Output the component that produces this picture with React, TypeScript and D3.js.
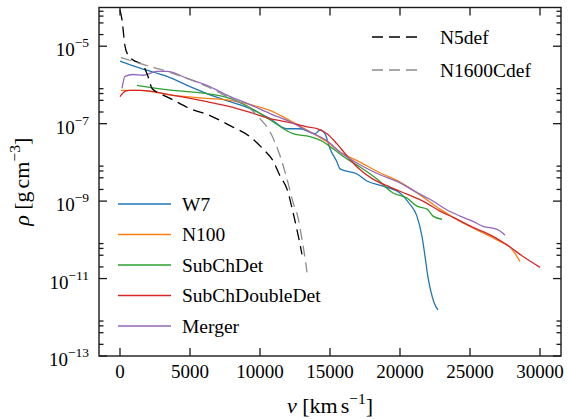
import * as d3 from "d3";
import React from "react";

// velocity [km/s] and density [g/cm^3]
const w7V = [0, 1430, 3360, 4790, 6210, 7860, 9290, 10710, 11930, 12860, 13930, 14290, 14640, 15000, 15500, 15710, 16930, 17640, 18790, 20000, 20710, 21210, 21570, 21790, 22000, 22210, 22430, 22710];
const w7Rho = [4.1e-6, 2.7e-6, 1.66e-6, 9.8e-7, 6.0e-7, 3.7e-7, 2.45e-7, 1.35e-7, 7.4e-8, 7.4e-8, 5.5e-8, 6.9e-8, 5.5e-8, 2.24e-8, 1.02e-8, 6.8e-9, 5.0e-9, 3.3e-9, 2.45e-9, 1.62e-9, 8.3e-10, 4.1e-10, 1.23e-10, 3.7e-11, 1.07e-11, 4.6e-12, 2.4e-12, 1.55e-12];

const n100V = [70, 1430, 3790, 6210, 7860, 9290, 10710, 12140, 13570, 14790, 15710, 17140, 18570, 20000, 21430, 22860, 24290, 25710, 27140, 27860, 28210, 28570];
const n100Rho = [7.2e-7, 7.2e-7, 5.4e-7, 4.5e-7, 4.0e-7, 3.1e-7, 2.2e-7, 1.2e-7, 6.2e-8, 3.4e-8, 1.86e-8, 1.02e-8, 5.4e-9, 3.1e-9, 1.45e-9, 6.2e-10, 3.0e-10, 1.66e-10, 9.1e-11, 6.5e-11, 4.5e-11, 2.75e-11];

const subChDetV = [1210, 3790, 6210, 7860, 9290, 10710, 12360, 13570, 14500, 15210, 16210, 17140, 18360, 19500, 20500, 21210, 21930, 22360, 23000];
const subChDetRho = [9.8e-7, 7.2e-7, 6.0e-7, 4.5e-7, 2.6e-7, 1.26e-7, 5.5e-8, 4.6e-8, 3.4e-8, 2.24e-8, 1.23e-8, 7.6e-9, 3.7e-9, 1.62e-9, 1.2e-9, 7.4e-10, 6.2e-10, 4.1e-10, 3.4e-10];

const subChDoubleDetV = [0, 360, 710, 1430, 3790, 6210, 7860, 9290, 10710, 12140, 13360, 14070, 14790, 15500, 16210, 16930, 18070, 19290, 20500, 21640, 22860, 23790, 25210, 26640, 27860, 28790, 30000];
const subChDoubleDetRho = [5.0e-7, 6.8e-7, 7.2e-7, 7.2e-7, 5.4e-7, 3.7e-7, 2.75e-7, 1.95e-7, 1.35e-7, 1.07e-7, 8.3e-8, 7.4e-8, 5.5e-8, 3.0e-8, 1.48e-8, 7.6e-9, 3.7e-9, 2.3e-9, 1.51e-9, 1.0e-9, 5.5e-10, 3.8e-10, 2.1e-10, 1.23e-10, 6.5e-11, 3.7e-11, 1.95e-11];

const mergerV = [140, 360, 930, 1640, 2640, 3360, 4790, 6210, 7860, 9290, 10710, 12140, 13360, 14790, 15710, 17140, 18570, 20000, 21430, 22140, 23360, 24290, 25210, 25930, 26930, 27290, 27500];
const mergerRho = [8.1e-7, 1.66e-6, 1.86e-6, 1.78e-6, 2.24e-6, 2.24e-6, 1.48e-6, 9.8e-7, 5.0e-7, 3.1e-7, 1.82e-7, 1.12e-7, 6.6e-8, 3.6e-8, 1.86e-8, 8.7e-9, 4.8e-9, 2.95e-9, 1.51e-9, 1.12e-9, 5.9e-10, 4.1e-10, 3.0e-10, 2.24e-10, 1.86e-10, 1.55e-10, 1.32e-10];

const n5defV = [0, 143, 357, 570, 930, 1640, 2000, 2290, 2860, 3570, 5000, 6430, 7860, 9290, 10210, 10930, 11430, 11930, 12360, 12710, 13000];
const n5defRho = [8.7e-5, 4.8e-5, 1.0e-5, 5.9e-6, 4.4e-6, 3.2e-6, 1.66e-6, 8.1e-7, 6.0e-7, 4.5e-7, 2.45e-7, 1.62e-7, 8.9e-8, 4.6e-8, 2.24e-8, 1.1e-8, 4.5e-9, 2.04e-9, 5.1e-10, 1.38e-10, 4.2e-11];

const n1600V = [70, 930, 2140, 3360, 4790, 6210, 7860, 9290, 10000, 10710, 11430, 11930, 12360, 12710, 13000, 13210, 13360];
const n1600Rho = [5.1e-6, 4.1e-6, 3.0e-6, 2.24e-6, 1.48e-6, 9.1e-7, 4.5e-7, 2.45e-7, 1.35e-7, 6.2e-8, 1.48e-8, 3.7e-9, 9.3e-10, 3.8e-10, 1.02e-10, 3.5e-11, 1.45e-11];

const xTicks = [0, 5000, 10000, 15000, 20000, 25000, 30000];
const yTickExps = [-13, -11, -9, -7, -5];
const minorSubs = [2, 4, 6, 8];

const models = [
  { name: "W7", v: w7V, rho: w7Rho, color: "#1f77b4" },
  { name: "N100", v: n100V, rho: n100Rho, color: "#ff7f0e" },
  { name: "SubChDet", v: subChDetV, rho: subChDetRho, color: "#2ca02c" },
  { name: "SubChDoubleDet", v: subChDoubleDetV, rho: subChDoubleDetRho, color: "#d62728" },
  { name: "Merger", v: mergerV, rho: mergerRho, color: "#9467bd" },
];
const defModels = [
  { name: "N5def", v: n5defV, rho: n5defRho, color: "#000000" },
  { name: "N1600Cdef", v: n1600V, rho: n1600Rho, color: "#8c8c8c" },
];

export default function App() {
  const width = 569;
  const height = 419;
  const left = 99, right = 561, top = 7.5, bottom = 356;
  const font = "'Liberation Serif', 'DejaVu Serif', 'Noto Serif', 'Times New Roman', Times, serif";
  const fs = 19;
  const legendFs = 19.5;
  const sup = 13.5;
  const labelFs = 22;

  const x = d3.scaleLinear().domain([-1500, 31500]).range([left, right]);
  const y = d3.scaleLog().domain([1e-13, 1e-4]).range([bottom, top]);

  const line = d3
    .line<[number, number]>()
    .x((d) => x(d[0]))
    .y((d) => y(d[1]))
    .curve(d3.curveMonotoneX);

  const pts = (v: number[], rho: number[]) => v.map((d, i) => [d, rho[i]] as [number, number]);

  const minorTicks = yTickExps.flatMap((e) => minorSubs.map((s) => s * Math.pow(10, e)));

  const axisColor = "#1a1a1a";

  return (
    <svg width={width} height={height}
      style={{ position: "absolute", left: 0, top: 0, background: "white", fontFamily: font }}>
      <defs>
        <clipPath id="plot">
          <rect x={left} y={top} width={right - left} height={bottom - top} />
        </clipPath>
      </defs>

      {/* data lines */}
      <g clipPath="url(#plot)" fill="none">
        {models.map((m) => (
          <path key={m.name} d={line(pts(m.v, m.rho)) ?? ""} stroke={m.color} strokeWidth={1.3} />
        ))}
        {defModels.map((m) => (
          <path key={m.name} d={line(pts(m.v, m.rho)) ?? ""} stroke={m.color} strokeWidth={1.3} strokeDasharray="11,6" />
        ))}
      </g>

      {/* frame */}
      <rect x={left} y={top} width={right - left} height={bottom - top} fill="none" stroke={axisColor} strokeWidth={1.4} />

      {/* ticks, all pointing inward */}
      <g stroke={axisColor} strokeWidth={1.3}>
        {xTicks.map((t) => (
          <g key={t}>
            <line x1={x(t)} x2={x(t)} y1={bottom} y2={bottom - 8} />
            <line x1={x(t)} x2={x(t)} y1={top} y2={top + 8} />
          </g>
        ))}
        {yTickExps.map((e) => (
          <g key={e}>
            <line x1={left} x2={left + 8} y1={y(Math.pow(10, e))} y2={y(Math.pow(10, e))} />
            <line x1={right} x2={right - 8} y1={y(Math.pow(10, e))} y2={y(Math.pow(10, e))} />
          </g>
        ))}
        {minorTicks.map((t, i) => (
          <g key={i}>
            <line x1={left} x2={left + 4.5} y1={y(t)} y2={y(t)} />
            <line x1={right} x2={right - 4.5} y1={y(t)} y2={y(t)} />
          </g>
        ))}
      </g>

      {/* tick labels */}
      <g fontSize={fs} fill="#000">
        {xTicks.map((t) => (
          <text key={t} x={x(t)} y={bottom + 22} textAnchor="middle">{t}</text>
        ))}
        {yTickExps.map((e) => (
          <text key={e} x={left - 10} y={y(Math.pow(10, e)) + 10} textAnchor="end">
            10<tspan dy={-9} fontSize={sup}>{"\u2212" + Math.abs(e)}</tspan>
          </text>
        ))}
      </g>

      {/* axis labels */}
      <text x={(left + right) / 2} y={413} fontSize={labelFs} textAnchor="middle">
        <tspan fontStyle="italic">v</tspan> [km<tspan dx={3}>s</tspan><tspan dy={-9} fontSize={15.5}>{"\u22121"}</tspan><tspan dy={9}>]</tspan>
      </text>
      <text transform={`translate(29, ${(top + bottom) / 2}) rotate(-90)`} fontSize={labelFs} textAnchor="middle">
        <tspan fontStyle="italic">ρ</tspan> [g<tspan dx={3}>cm</tspan><tspan dy={-9} fontSize={15.5}>{"\u22123"}</tspan><tspan dy={9}>]</tspan>
      </text>

      {/* legend: models */}
      <g fontSize={legendFs}>
        {models.map((m, i) => {
          const ly = 204 + i * 30.5;
          return (
            <g key={m.name}>
              <line x1={118} x2={171} y1={ly} y2={ly} stroke={m.color} strokeWidth={1.3} />
              <text x={182} y={ly + 6.5}>{m.name}</text>
            </g>
          );
        })}
      </g>

      {/* legend: deflagrations */}
      <g fontSize={legendFs}>
        {defModels.map((m, i) => {
          const ly = 37 + i * 33;
          return (
            <g key={m.name}>
              <line x1={372} x2={420} y1={ly} y2={ly} stroke={m.color} strokeWidth={1.3} strokeDasharray="11,6" />
              <text x={440} y={ly + 6.5}>{m.name}</text>
            </g>
          );
        })}
      </g>
    </svg>
  );
}
